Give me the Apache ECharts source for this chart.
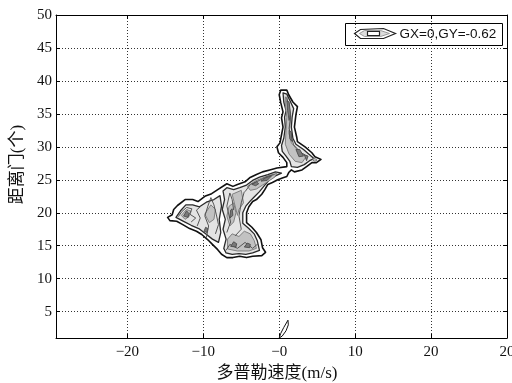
<!DOCTYPE html>
<html>
<head>
<meta charset="utf-8">
<script src="https://cdn.jsdelivr.net/npm/echarts@6/dist/echarts.min.js"></script>
<style>
  html, body { margin: 0; padding: 0; background: #fff; }
  #chart { width: 512px; height: 383px; }
</style>
</head>
<body>
<div id="chart"></div>
<script>
// Axis setup
const xRange = [-29.4, 30];
const yRange = [1, 50];
const xTicks = [-20, -10, 0, 10, 20, 30];
const xTickLabels = ['\u221220', '\u221210', '\u22120', '10', '20', '20'];
const yTicks = [5, 10, 15, 20, 25, 30, 35, 40, 45, 50];
const xName = '多普勒速度(m/s)';
const yName = '距离门(个)';
const legendText = 'GX=0,GY=-0.62';

// Outermost contour level (velocity, range gate)
const outerMain = [[0.2,38.6],[1.0,38.6],[1.25,37.9],[1.8,36.8],[2.4,36.1],[2.2,34.9],[2.0,33.0],[2.3,31.5],[2.4,30.8],[3.4,30.0],[4.3,29.1],[4.7,28.5],[5.5,28.1],[4.9,27.6],[4.3,27.6],[3.6,27.0],[3.0,26.5],[2.0,26.2],[1.6,26.5],[1.25,26.1],[1.0,25.5],[0.5,25.3],[-0.2,25.0],[-0.9,24.6],[-1.5,24.3],[-1.9,23.5],[-2.3,22.8],[-3.0,22.0],[-3.5,21.7],[-4.0,20.9],[-4.3,20.0],[-4.3,18.5],[-3.6,17.8],[-3.0,17.0],[-2.4,15.9],[-2.2,14.7],[-1.8,14.0],[-2.3,13.5],[-3.5,13.4],[-4.3,13.2],[-5.2,13.4],[-6.1,13.2],[-6.9,13.2],[-7.6,13.7],[-8.1,14.4],[-8.8,15.2],[-9.4,15.9],[-10.2,16.7],[-10.9,17.2],[-11.8,17.6],[-12.7,18.2],[-13.5,18.7],[-14.4,18.8],[-14.7,19.3],[-14.1,19.7],[-13.9,20.5],[-13.4,21.1],[-12.4,22.0],[-11.4,22.0],[-10.7,21.7],[-9.8,22.5],[-8.9,22.9],[-8.1,23.5],[-6.9,24.4],[-6.1,24.0],[-5.5,24.3],[-4.5,24.7],[-3.9,25.3],[-3.0,25.8],[-2.2,26.2],[-1.25,26.5],[-0.3,26.8],[1.0,27.0],[1.0,27.6],[0.5,28.4],[-0.1,29.1],[-0.3,30.0],[0.1,30.6],[0.3,31.8],[0.5,33.0],[0.3,34.4],[0.5,35.3],[0.2,36.7],[0.0,37.9],[0.2,38.6]];
const outerLeaf = [[0.0,1.0],[0.2,1.7],[0.6,2.6],[1.15,3.7],[1.2,3.0],[0.9,2.1],[0.4,1.3],[0.0,1.0]];

// Second contour level
const level2 = [
  [[-2.6,14.3],[-3.5,13.9],[-4.4,13.7],[-5.3,13.8],[-6.2,13.7],[-7.0,13.9],[-7.3,14.6],[-7.0,16.0],[-7.4,17.5],[-7.1,19.0],[-7.5,20.5],[-7.2,22.0],[-7.4,23.3],[-6.9,23.8],[-6.0,23.5],[-5.2,23.8],[-4.3,24.2],[-3.5,24.9],[-2.6,25.4],[-1.5,25.8],[-0.5,26.2],[0.3,26.0],[-0.5,25.6],[-1.3,25.0],[-1.9,24.2],[-2.6,23.2],[-3.3,22.4],[-3.8,21.8],[-4.4,21.0],[-4.8,20.0],[-4.8,18.4],[-4.0,17.6],[-3.3,16.8],[-2.9,15.8],[-2.7,14.8],[-2.6,14.3]],
  [[-13.6,19.3],[-13.0,20.3],[-12.3,21.2],[-11.4,21.2],[-10.5,20.9],[-9.6,21.6],[-8.6,22.0],[-7.8,22.6],[-7.6,21.0],[-7.9,19.0],[-7.7,17.0],[-8.0,15.5],[-8.8,16.0],[-9.7,16.8],[-10.6,17.6],[-11.6,18.1],[-12.6,18.7],[-13.6,19.3]],
  [[0.5,38.2],[1.0,38.0],[1.5,36.8],[1.9,35.8],[1.7,34.5],[1.6,33.0],[1.8,31.3],[2.2,30.4],[3.2,29.6],[4.0,28.8],[4.6,28.2],[4.0,27.9],[3.3,27.3],[2.4,26.9],[1.6,27.0],[1.4,27.8],[0.9,28.6],[0.4,29.3],[0.3,30.2],[0.6,31.3],[0.8,33.0],[0.7,34.5],[0.9,35.5],[0.6,36.8],[0.5,38.2]]
];

// Third contour level
const level3 = [
  [[0.8,37.6],[1.3,36.6],[1.5,34.2],[1.3,32.0],[1.6,30.6],[2.5,29.4],[3.6,28.6],[3.0,27.6],[2.1,27.8],[1.3,28.9],[0.8,30.4],[0.9,32.5],[1.0,34.5],[0.8,36.5],[0.8,37.6]],
  [[-6.8,14.5],[-5.5,14.2],[-4.0,14.2],[-3.0,14.6],[-3.3,15.8],[-3.8,16.8],[-4.6,17.2],[-5.3,16.4],[-6.2,16.8],[-6.8,16.0],[-6.8,14.5]],
  [[-6.5,18.0],[-6.9,19.5],[-6.6,21.0],[-6.0,21.5],[-5.7,20.0],[-6.0,18.6],[-6.5,18.0]],
  [[-5.5,19.6],[-6.2,22.8],[-5.0,23.4],[-4.7,21.5],[-5.3,20.5],[-5.5,19.6]],
  [[-9.2,18.5],[-9.8,19.8],[-9.0,21.2],[-8.4,20.5],[-8.6,19.0],[-9.2,18.5]],
  [[-12.4,19.0],[-12.9,19.6],[-12.2,20.5],[-11.6,20.2],[-11.9,19.4],[-12.4,19.0]],
  [[-0.3,26.0],[-1.2,25.7],[-2.2,25.3],[-3.2,24.8],[-4.2,24.0],[-3.8,23.4],[-3.0,23.6],[-2.2,24.2],[-1.4,24.8],[-0.6,25.4],[-0.3,26.0]],
  [[4.6,28.3],[5.0,28.0],[4.7,27.8],[4.4,28.0],[4.6,28.3]]
];

// Innermost peaks
const level4 = [
  [[1.0,37.0],[1.3,36.8],[1.5,35.0],[1.3,34.0],[1.1,35.5],[1.0,37.0]],
  [[1.3,32.5],[1.6,32.2],[1.7,30.8],[1.4,31.2],[1.3,32.5]],
  [[2.2,29.6],[2.7,29.6],[3.2,28.6],[2.6,28.5],[2.2,29.6]],
  [[3.3,28.8],[3.8,28.6],[3.6,27.9],[3.3,28.8]],
  [[-12.2,20.3],[-12.6,19.5],[-12.0,19.3],[-11.9,19.9],[-12.2,20.3]],
  [[-9.7,17.8],[-9.9,17.2],[-9.5,17.0],[-9.4,17.6],[-9.7,17.8]],
  [[-1.0,25.6],[-1.8,25.3],[-2.4,24.8],[-1.6,24.9],[-1.0,25.6]],
  [[-3.0,24.7],[-3.6,24.3],[-3.1,24.1],[-2.7,24.4],[-3.0,24.7]],
  [[-4.2,15.4],[-4.6,14.8],[-3.9,14.7],[-3.8,15.2],[-4.2,15.4]],
  [[-6.0,15.6],[-6.4,14.9],[-5.7,14.8],[-5.6,15.3],[-6.0,15.6]],
  [[-6.4,20.4],[-6.5,19.2],[-6.1,19.6],[-6.2,20.6],[-6.4,20.4]]
];

// Open contour fragments inside the echo region
const ridges = [
  [[-9.6,16.2],[-9.3,18.0],[-9.8,19.5],[-9.4,21.0],[-9.0,22.3],[-8.6,21.2],[-8.3,19.8],[-8.0,18.2],[-8.4,16.8]],
  [[-6.9,17.0],[-6.4,18.6],[-6.9,21.0],[-6.5,23.0],[-6.2,22.0],[-6.0,20.4]],
  [[-5.8,16.5],[-5.0,17.5],[-5.3,19.5],[-5.0,21.5],[-4.6,23.2]],
  [[-7.0,14.3],[-6.5,15.2],[-5.5,14.6],[-4.5,15.5],[-3.5,14.6],[-2.8,15.3]],
  [[-4.5,23.2],[-3.8,24.3],[-2.8,24.8],[-1.6,25.5],[-0.6,25.8]],
  [[1.0,37.6],[1.2,36.0],[1.5,34.5],[1.3,32.8],[1.6,31.5],[1.9,30.3],[2.8,29.2],[3.7,28.5]],
  [[-13.3,19.4],[-12.8,20.2],[-12.2,20.8],[-11.5,20.6],[-11.8,19.8],[-11.0,19.2],[-11.6,18.6]],
  [[-10.8,18.0],[-10.4,19.2],[-10.9,20.4],[-10.3,21.0]]
];

function contourSeries(polys, closed, fill, stroke, width, z) {
  return {
    type: 'custom',
    coordinateSystem: 'cartesian2d',
    xAxisIndex: 0,
    yAxisIndex: 0,
    clip: true,
    silent: true,
    z: z,
    data: polys.map(p => p[0]),
    encode: { x: 0, y: 1 },
    renderItem: function (params, api) {
      const pts = polys[params.dataIndex].map(p => api.coord(p));
      return {
        type: closed ? 'polygon' : 'polyline',
        shape: { points: pts },
        style: { fill: closed ? fill : null, stroke: stroke, lineWidth: width, lineJoin: 'round' }
      };
    }
  };
}

const serif = '"Liberation Serif", "DejaVu Serif", "Noto Sans CJK SC", serif';

const chart = echarts.init(document.getElementById('chart'), null, { renderer: 'canvas' });

const option = {
  animation: false,
  backgroundColor: '#fff',
  grid: { left: 56, right: 5, top: 15, bottom: 45, containLabel: false, outerBoundsMode: 'none' },
  xAxis: [
    {
      type: 'value', min: xRange[0], max: xRange[1], position: 'bottom',
      name: xName, nameLocation: 'middle', nameGap: 24,
      nameTextStyle: { fontFamily: serif, fontSize: 17, color: '#111', padding: [0, 9, 0, 0] },
      axisLine: { show: true, onZero: false, lineStyle: { color: '#000', width: 1 } },
      axisTick: { show: true, inside: true, length: 4, customValues: xTicks, lineStyle: { color: '#000' } },
      axisLabel: {
        customValues: xTicks, margin: 7, fontFamily: serif, fontSize: 15, color: '#111',
        formatter: v => xTickLabels[xTicks.indexOf(Math.round(v))]
      },
      splitLine: { show: true, lineStyle: { color: '#333', type: [1, 2], width: 1 } }
    },
    {
      type: 'value', min: xRange[0], max: xRange[1], position: 'top',
      axisLine: { show: true, onZero: false, lineStyle: { color: '#000', width: 1 } },
      axisTick: { show: true, inside: true, length: 4, customValues: xTicks, lineStyle: { color: '#000' } },
      axisLabel: { show: false },
      splitLine: { show: false }
    }
  ],
  yAxis: [
    {
      type: 'value', min: yRange[0], max: yRange[1], position: 'left',
      name: yName, nameLocation: 'middle', nameGap: 30, nameRotate: 90,
      nameTextStyle: { fontFamily: serif, fontSize: 17, color: '#111', padding: [0, 0, 0, 24] },
      axisLine: { show: true, onZero: false, lineStyle: { color: '#000', width: 1 } },
      axisTick: { show: true, inside: true, length: 4, customValues: yTicks, lineStyle: { color: '#000' } },
      axisLabel: { customValues: yTicks, margin: 4, fontFamily: serif, fontSize: 15, color: '#111' },
      splitLine: { show: true, lineStyle: { color: '#333', type: [1, 2], width: 1 } }
    },
    {
      type: 'value', min: yRange[0], max: yRange[1], position: 'right',
      axisLine: { show: true, onZero: false, lineStyle: { color: '#000', width: 1 } },
      axisTick: { show: true, inside: true, length: 4, customValues: yTicks, lineStyle: { color: '#000' } },
      axisLabel: { show: false },
      splitLine: { show: false }
    }
  ],
  series: [
    contourSeries([outerMain], true, '#ffffff', '#111', 1.6, 2),
    contourSeries([outerLeaf], true, '#ffffff', '#111', 1.0, 2),
    contourSeries(level2, true, '#e4e4e4', '#2a2a2a', 1.3, 3),
    contourSeries(level3, true, '#c2c2c2', '#777', 0.9, 4),
    contourSeries(ridges, false, null, '#555', 1.0, 5),
    contourSeries(level4, true, '#7a7a7a', '#444', 0.8, 6)
  ],
  graphic: [
    {
      type: 'group', left: 345, top: 23, z: 100,
      children: [
        { type: 'rect', shape: { x: 0, y: 0, width: 157, height: 22 }, style: { fill: '#fff', stroke: '#000', lineWidth: 1 } },
        { type: 'polygon', shape: { points: [[9, 10], [15, 6], [38, 5], [50, 10], [38, 15], [15, 15]] }, style: { fill: '#fff', stroke: '#222', lineWidth: 1.2 } },
        { type: 'polygon', shape: { points: [[14, 10], [19, 7], [35, 7], [44, 10], [35, 13], [19, 13]] }, style: { fill: '#ddd', stroke: '#999', lineWidth: 1 } },
        { type: 'polygon', shape: { points: [[22, 8], [34, 8], [34, 12], [22, 12]] }, style: { fill: '#fff', stroke: '#222', lineWidth: 1.2 } },
        { type: 'text', x: 54, y: 11, style: { text: legendText, fontFamily: '"Liberation Sans", Arial, sans-serif', fontSize: 13.5, fill: '#111', verticalAlign: 'middle', align: 'left' } }
      ]
    }
  ]
};

chart.setOption(option);
</script>
</body>
</html>
